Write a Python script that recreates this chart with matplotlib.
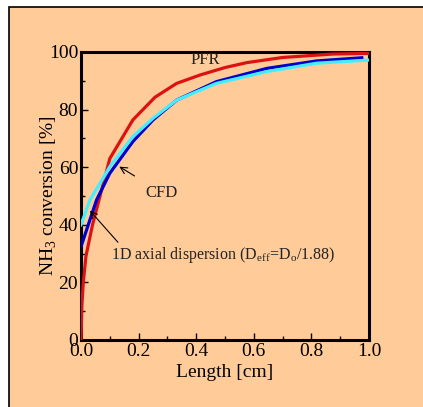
import matplotlib.pyplot as plt
from matplotlib.patches import Rectangle

# values
pfr_x = [0.0, 0.003, 0.008, 0.017, 0.04, 0.1, 0.18, 0.257, 0.332, 0.413, 0.5, 0.575, 0.7, 0.875, 1.0]
pfr_y = [0.0, 12.0, 20.0, 29.0, 40.0, 63.0, 76.4, 84.3, 89.1, 92.0, 94.6, 96.3, 98.1, 99.3, 99.5]

dispersion_x = [0.0, 0.054, 0.1, 0.18, 0.25, 0.332, 0.47, 0.645, 0.818, 0.975]
dispersion_y = [32.4, 48.6, 57.9, 68.9, 76.4, 83.3, 89.7, 94.3, 96.9, 98.0]

cfd_x = [0.0, 0.031, 0.066, 0.1, 0.18, 0.25, 0.332, 0.47, 0.645, 0.818, 1.0]
cfd_y = [40.0, 48.6, 54.4, 60.2, 70.6, 77.0, 83.3, 89.1, 93.2, 96.1, 97.2]

bg = '#FFCC99'
plt.rcParams['font.family'] = ['Liberation Serif', 'DejaVu Serif']
plt.rcParams['mathtext.fontset'] = 'custom'
plt.rcParams['mathtext.rm'] = 'Liberation Serif'

fig = plt.figure(figsize=(4.23, 4.07), dpi=100)
fig.patch.set_facecolor('white')
# orange panel with black frame on the left and top
fig.patches.append(Rectangle((9 / 423, -0.1), 1.2, (407 - 7) / 407 + 0.1,
                             transform=fig.transFigure, facecolor=bg,
                             edgecolor='black', linewidth=1.2, zorder=-5))

ax = fig.add_axes([81 / 423, 1 - 340 / 407, 288 / 423, 288 / 407])
ax.set_facecolor(bg)

ax.plot(pfr_x, pfr_y, color='#DD1111', lw=2.3, zorder=3)
ax.plot(cfd_x, cfd_y, color='#44EEFF', lw=2.3, zorder=4)
ax.plot(dispersion_x, dispersion_y, color='#0000CC', lw=2.3, zorder=3)

ax.set_xlim(0, 1)
ax.set_ylim(0, 100)
ax.set_xticks([0, 0.2, 0.4, 0.6, 0.8, 1.0])
ax.set_xticklabels(['0.0', '0.2', '0.4', '0.6', '0.8', '1.0'])
ax.set_xticks([0.1, 0.3, 0.5, 0.7, 0.9], minor=True)
ax.set_yticks([0, 20, 40, 60, 80, 100])
ax.set_yticks([10, 30, 50, 70, 90], minor=True)
ax.tick_params(which='both', direction='in', labelsize=14, pad=2)
ax.tick_params(which='major', length=5, width=1)
ax.tick_params(which='minor', length=3, width=1)
for s in ax.spines.values():
    s.set_linewidth(2.2)

ax.set_xlabel('Length [cm]', fontsize=14, labelpad=3)
ax.set_ylabel('NH$_3$ conversion [%]', fontsize=14, labelpad=-7)

ax.text(0.43, 97.2, 'PFR', fontsize=12, ha='center', va='center', color='#222222')
ax.annotate('CFD', xy=(0.133, 60.2), xytext=(0.28, 51.2), fontsize=12,
            ha='center', va='center', color='#222222',
            arrowprops=dict(arrowstyle='->', color='black', lw=0.8, shrinkA=8, shrinkB=0))
ax.annotate('1D axial dispersion (D$_{\\rm eff}$=D$_{\\rm o}$/1.88)', xy=(0.031, 44.9),
            xytext=(0.104, 29.5), fontsize=11.5, ha='left', va='center', color='#222222',
            arrowprops=dict(arrowstyle='->', color='black', lw=0.8, shrinkA=0, shrinkB=0,
                            relpos=(0.05, 0.9)))

fig.savefig('out.png', dpi=100, facecolor=fig.get_facecolor())
